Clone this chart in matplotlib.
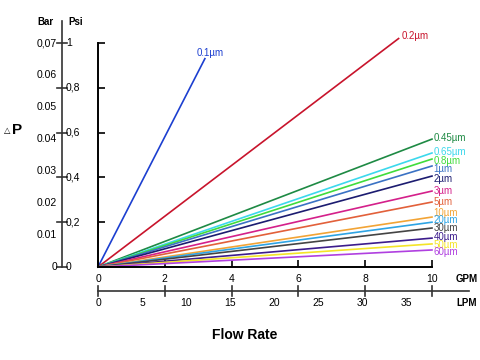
import matplotlib.pyplot as plt
from matplotlib.transforms import blended_transform_factory

plt.rcParams['font.family'] = ['Liberation Sans', 'DejaVu Sans']

# pore sizes, end point of each line (GPM, psi) and colours
labels = ['0.1µm', '0.2µm', '0.45µm', '0.65µm', '0.8µm', '1µm', '2µm', '3µm',
          '5µm', '10µm', '20µm', '30µm', '40µm', '50µm', '60µm']
end_gpm = [3.2, 9.0, 10, 10, 10, 10, 10, 10, 10, 10, 10, 10, 10, 10, 10]
end_psi = [0.93, 1.02, 0.571, 0.509, 0.482, 0.451, 0.406, 0.339,
           0.29, 0.223, 0.20, 0.174, 0.129, 0.103, 0.076]
label_gpm = [2.95, 9.1, 10.05, 10.05, 10.05, 10.05, 10.05, 10.05,
             10.05, 10.05, 10.05, 10.05, 10.05, 10.05, 10.05]
label_psi = [0.955, 1.03, 0.577, 0.515, 0.475, 0.437, 0.392, 0.34,
             0.29, 0.243, 0.21, 0.175, 0.135, 0.10, 0.065]
colors = ['#1c3fd0', '#c8142c', '#1e8a44', '#3cd8ec', '#40dc3c', '#3a72c4',
          '#1c1c70', '#d4208a', '#e2603a', '#f2a436', '#2ea4e4', '#444444',
          '#3c1c8c', '#f4e428', '#b040e0']

gpm_ticks = [0, 2, 4, 6, 8, 10]
lpm_ticks = [0, 5, 10, 15, 20, 25, 30, 35]
lpm_per_gpm = 3.785
psi_ticks = [0, 0.2, 0.4, 0.6, 0.8, 1]
psi_labels = ['0', '0,2', '0,4', '0,6', '0,8', '1']
bar_ticks = [0, 0.01, 0.02, 0.03, 0.04, 0.05, 0.06, 0.07]
bar_labels = ['0', '0.01', '0.02', '0.03', '0.04', '0.05', '0.06', '0,07']

fig = plt.figure(figsize=(4.8, 3.6), dpi=100)
ax = fig.add_axes([98 / 480, 1 - 267 / 360, 334 / 480, 224 / 360])
ax.set_xlim(0, 10)
ax.set_ylim(0, 1)
for s in ['top', 'right']:
    ax.spines[s].set_visible(False)
for s in ['left', 'bottom']:
    ax.spines[s].set_linewidth(1.4)
ax.set_xticks(gpm_ticks)
ax.set_yticks(psi_ticks)
ax.tick_params(direction='in', length=5, width=1.2, labelleft=False, labelbottom=False)

for lab, gx, py, lx, ly, c in zip(labels, end_gpm, end_psi, label_gpm, label_psi, colors):
    ax.plot([0, gx], [0, py], color=c, lw=1.2, clip_on=False)
    ax.text(lx, ly, lab, color=c, fontsize=7, ha='left', va='center')

# GPM tick labels
for g in gpm_ticks:
    ax.text(g, -0.03, str(g), fontsize=7.5, ha='center', va='top')
ax.text(11.05, -0.03, 'GPM', fontsize=7, fontweight='bold', ha='center', va='top')

# LPM scale line
bt = blended_transform_factory(ax.transData, fig.transFigure)
yl = 1 - 291 / 360
ax.plot([0, 11.1], [yl, yl], transform=bt, color='#333333', lw=1.2, clip_on=False)
for g in gpm_ticks:
    ax.plot([g, g], [yl - 5 / 360, yl + 5 / 360], transform=bt, color='#333333',
            lw=1.2, clip_on=False)
for l in lpm_ticks:
    ax.text(l / lpm_per_gpm, yl - 7 / 360, str(l), transform=bt, fontsize=7.5,
            ha='center', va='top')
ax.text(11.05, yl - 7 / 360, 'LPM', transform=bt, fontsize=7, fontweight='bold',
        ha='center', va='top')

fig.text(245 / 480, 1 - 335 / 360, 'Flow Rate', fontsize=10, fontweight='bold',
         ha='center', va='center')

# Bar / Psi scale on the left
lt = blended_transform_factory(fig.transFigure, ax.transData)
xl = 62 / 480
ax.plot([xl, xl], [0, 1.1], transform=lt, color='#333333', lw=1.2, clip_on=False)
for p, t in zip(psi_ticks, psi_labels):
    ax.plot([xl - 5 / 480, xl + 5 / 480], [p, p], transform=lt, color='#333333',
            lw=1.2, clip_on=False)
    ax.text(xl + 4 / 480, p, t, transform=lt, fontsize=7.5, ha='left', va='center')
for b, t in zip(bar_ticks, bar_labels):
    ax.text(xl - 5 / 480, b / 0.07, t, transform=lt, fontsize=7.5, ha='right',
            va='center')
fig.text(45 / 480, 1 - 22 / 360, 'Bar', fontsize=7, fontweight='bold',
         ha='center', va='center')
fig.text(76 / 480, 1 - 22 / 360, 'Psi', fontsize=7, fontweight='bold',
         ha='center', va='center')
fig.text(4 / 480, 1 - 131 / 360, '△', fontsize=6, ha='left', va='center')
fig.text(12 / 480, 1 - 130 / 360, 'P', fontsize=11, fontweight='bold',
         ha='left', va='center')

fig.savefig('out.png', dpi=100)
